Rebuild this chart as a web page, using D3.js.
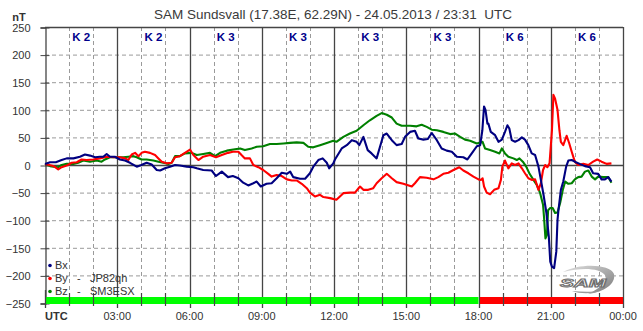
<!DOCTYPE html>
<html>
<head>
<meta charset="utf-8">
<script src="https://cdn.jsdelivr.net/npm/d3@7"></script>
<style>
  html, body { margin: 0; padding: 0; background: #fff; }
  svg { display: block; font-family: "Liberation Sans", Arial, sans-serif; }
</style>
</head>
<body>
<svg id="chart" width="643" height="331"></svg>
<script>
// ---------------- DATA ----------------
const titleText = "SAM Sundsvall (17.38E, 62.29N) - 24.05.2013 / 23:31  UTC";
const yTicks = [-250, -200, -150, -100, -50, 0, 50, 100, 150, 200, 250];
const xTickHours = [3, 6, 9, 12, 15, 18, 21, 24];
const xTickLabels = ["03:00", "06:00", "09:00", "12:00", "15:00", "18:00", "21:00", "00:00"];
const kValues = [2, 2, 3, 3, 3, 3, 6, 6];
const statusStart = [0, 18];
const statusEnd = [18, 24];
const statusLevel = ["quiet", "storm"];
const legendNames = ["Bx", "By", "Bz"];
const legendNotes = ["", "JP82qh", "SM3ESX"];

const bxTime = [0.0,0.21,0.45,0.69,0.9,1.18,1.45,1.66,1.87,2.08,2.28,2.42,2.56,2.7,2.9,3.11,3.32,3.53,3.81,4.0,4.22,4.43,4.64,4.78,4.98,5.19,5.4,5.6,5.88,6.16,6.3,6.57,6.92,7.1,7.34,7.6,7.8,8.03,8.23,8.44,8.65,8.79,8.96,9.2,9.41,9.62,9.83,10.04,10.18,10.31,10.59,10.8,11.0,11.14,11.35,11.53,11.7,11.8,11.97,12.04,12.32,12.53,12.74,12.94,13.05,13.22,13.4,13.56,13.77,13.91,14.05,14.19,14.4,14.6,14.81,14.95,15.16,15.36,15.5,15.71,15.89,16.06,16.27,16.47,16.68,16.89,17.1,17.37,17.54,17.72,17.93,18.07,18.16,18.23,18.29,18.37,18.41,18.51,18.69,18.83,18.97,19.1,19.2,19.28,19.38,19.52,19.66,19.8,19.93,20.07,20.21,20.35,20.49,20.59,20.7,20.82,20.92,20.98,21.05,21.14,21.23,21.28,21.32,21.42,21.52,21.64,21.73,21.87,22.0,22.2,22.42,22.63,22.76,22.97,23.11,23.25,23.39,23.52];
const bxValues = [2,5,5,9,12,12,15,19,17,14,15,15,20,15,15,10,8,4,-3,0,4,1,-9,-10,-6,-3,0,-1,-3,-4,-6,-9,-10,-20,-12,-22,-20,-24,-32,-37,-33,-30,-39,-34,-33,-24,-14,-16,-12,-22,-25,-25,-15,-3,9,12,4,-6,3,10,30,36,45,42,36,51,27,21,12,33,54,57,45,36,38,51,60,62,48,46,47,58,45,30,26,24,15,14,10,21,34,36,63,106,100,75,75,60,54,42,46,60,72,66,45,42,45,50,46,36,21,18,-3,-27,-54,-87,-130,-175,-184,-187,-157,-100,-82,-45,-30,-3,8,9,6,2,-2,-4,-15,-16,-26,-26,-22,-30];

const byTime = [0.0,0.35,0.42,0.55,0.69,0.9,1.11,1.32,1.52,1.73,2.0,2.28,2.56,2.84,3.11,3.32,3.46,3.6,3.74,3.88,4.01,4.15,4.36,4.57,4.71,4.85,5.05,5.26,5.4,5.6,5.81,6.02,6.16,6.37,6.57,6.85,7.1,7.34,7.6,7.8,8.03,8.16,8.3,8.51,8.65,8.86,9.06,9.27,9.41,9.62,9.83,10.04,10.25,10.45,10.66,10.87,11.0,11.21,11.42,11.56,11.84,12.1,12.39,12.66,12.87,13.08,13.22,13.42,13.63,13.77,13.98,14.19,14.4,14.6,14.88,15.23,15.36,15.57,15.85,16.13,16.33,16.54,16.75,16.96,17.2,17.37,17.58,17.79,18.0,18.1,18.17,18.23,18.34,18.48,18.65,18.83,18.93,18.99,19.1,19.24,19.38,19.52,19.66,19.8,19.93,20.07,20.21,20.35,20.49,20.59,20.68,20.77,20.86,20.95,21.05,21.11,21.18,21.28,21.36,21.42,21.52,21.66,21.77,21.87,22.0,22.14,22.35,22.56,22.76,22.93,23.11,23.32,23.52];
const byValues = [2,-2,-4,-8,-4,-1,4,5,10,9,10,12,15,14,14,12,9,19,22,16,22,24,22,18,12,6,3,4,14,16,22,28,18,9,15,18,14,18,22,24,24,18,12,12,0,-4,-9,-16,-21,-18,-20,-26,-28,-28,-34,-42,-50,-57,-54,-58,-60,-63,-51,-50,-50,-39,-45,-45,-42,-33,-24,-16,-24,-31,-34,-39,-33,-22,-23,-26,-22,-16,-14,-9,-4,-10,-15,-21,-26,-27,-24,-39,-50,-53,-45,-42,-27,-3,8,-6,3,0,3,-6,-15,-24,-27,-26,-45,-33,-9,0,-4,3,63,127,120,100,63,42,36,53,39,24,6,0,2,0,6,10,6,2,3];

const bzTime = [0.0,0.21,0.35,0.55,0.69,0.9,1.18,1.38,1.59,1.87,2.15,2.35,2.49,2.7,2.98,3.25,3.46,3.67,3.81,4.01,4.22,4.5,4.71,4.91,5.12,5.26,5.4,5.6,5.81,6.09,6.3,6.57,6.85,7.06,7.27,7.55,7.82,8.1,8.3,8.58,8.79,9.06,9.34,9.62,9.9,10.17,10.45,10.73,10.93,11.14,11.42,11.7,11.97,12.1,12.39,12.66,12.94,13.22,13.49,13.77,13.98,14.19,14.4,14.6,14.81,15.16,15.43,15.64,15.85,16.06,16.27,16.54,16.82,17.03,17.24,17.44,17.65,17.93,18.17,18.27,18.48,18.69,18.87,18.97,19.1,19.24,19.45,19.59,19.7,19.84,19.98,20.11,20.28,20.42,20.56,20.68,20.72,20.78,20.84,20.89,20.98,21.08,21.18,21.28,21.39,21.5,21.6,21.73,21.87,22.0,22.14,22.28,22.42,22.56,22.7,22.84,22.97,23.18,23.39,23.52];
const bzValues = [2,-2,-3,-4,0,2,2,4,8,6,8,6,10,14,14,14,15,16,14,10,10,8,6,4,2,4,16,16,21,22,18,20,22,16,22,26,28,30,27,30,33,34,38,38,39,40,41,40,33,32,36,40,44,42,51,57,62,72,81,89,94,91,86,75,71,71,70,73,69,64,63,60,56,57,51,46,44,39,42,30,27,24,21,30,21,15,12,9,12,6,-3,-15,-27,-36,-51,-72,-94,-133,-127,-82,-78,-78,-87,-86,-69,-45,-30,-34,-33,-26,-22,-21,-12,-10,-21,-26,-21,-22,-22,-32];

// ---------------- DRAW ----------------
const svg = d3.select("#chart");
const x = d3.scaleLinear().domain([0, 24]).range([45, 623]);
const y = d3.scaleLinear().domain([-250, 250]).range([303, 27]);
const solidColor = "#454545";
const dashColor = "#9a9a9a";

// title
svg.append("text").attr("x", 333).attr("y", 19).attr("text-anchor", "middle")
  .attr("font-size", 13.5).attr("fill", "#3a3a3a").style("white-space", "pre")
  .text(titleText);
svg.append("text").attr("x", 19).attr("y", 21).attr("text-anchor", "middle")
  .attr("font-size", 11).attr("font-weight", "bold").attr("fill", "#333").text("nT");

// grid: horizontal
const g = svg.append("g");
yTicks.filter(v => v !== 0 && Math.abs(v) !== 250).forEach(v => {
  g.append("line").attr("x1", x(0)).attr("x2", x(24)).attr("y1", y(v) + 0.5).attr("y2", y(v) + 0.5)
    .attr("stroke", dashColor).attr("stroke-dasharray", "4,3");
});
// vertical hourly grid
d3.range(1, 24).forEach(h => {
  if (h % 3 !== 0) {
    g.append("line").attr("x1", Math.round(x(h)) + 0.5).attr("x2", Math.round(x(h)) + 0.5)
      .attr("y1", y(250)).attr("y2", y(-250))
      .attr("stroke", dashColor).attr("stroke-dasharray", "4,3");
  }
});
d3.range(3, 25, 3).forEach(h => {
  g.append("line").attr("x1", Math.round(x(h)) + 0.5).attr("x2", Math.round(x(h)) + 0.5)
    .attr("y1", y(250)).attr("y2", y(-250) + 5)
    .attr("stroke", solidColor).attr("stroke-width", 1.3);
});
// zero line & top line
[0, 250].forEach(v => {
  g.append("line").attr("x1", x(0)).attr("x2", x(24)).attr("y1", y(v) + 0.5).attr("y2", y(v) + 0.5)
    .attr("stroke", solidColor).attr("stroke-width", 1.3);
});

// y axis
const yAxis = d3.axisLeft(y).tickValues(yTicks).tickSize(5).tickPadding(10).tickFormat(d3.format("d"));
const ya = svg.append("g").attr("transform", `translate(${x(0) + 0.5},0.5)`).call(yAxis);
ya.select(".domain").attr("stroke", solidColor).attr("stroke-width", 1.3);
ya.selectAll(".tick line").attr("stroke", solidColor).attr("x2", 4).attr("x1", -5);
ya.selectAll(".tick text").attr("font-size", 11).attr("fill", "#333")
  .attr("font-family", "Liberation Sans, Arial, sans-serif").attr("x", -15).attr("dy", "0.35em");

// K labels
kValues.forEach((k, i) => {
  svg.append("text").attr("x", x(i * 3 + 1.5)).attr("y", 41).attr("text-anchor", "middle")
    .attr("font-size", 11.5).attr("font-weight", "bold").attr("fill", "#00008b")
    .style("white-space", "pre").text("K " + k);
});

// status bar
statusLevel.forEach((s, i) => {
  const x0 = x(statusStart[i]) + (i > 0 ? 1.5 : 0);
  svg.append("rect").attr("x", x0).attr("y", 297)
    .attr("width", x(statusEnd[i]) - x0).attr("height", 7)
    .attr("fill", s === "quiet" ? "#00ff00" : "#ff0000");
});
// hourly ticks over bar
d3.range(1, 24).forEach(h => {
  if (h % 3 !== 0) {
    svg.append("line").attr("x1", Math.round(x(h)) + 0.5).attr("x2", Math.round(x(h)) + 0.5)
      .attr("y1", 293).attr("y2", 306).attr("stroke", solidColor).attr("stroke-width", 1.2);
  }
});
svg.append("line").attr("x1", x(0) + 0.5).attr("x2", x(0) + 0.5).attr("y1", 290).attr("y2", 308)
  .attr("stroke", solidColor).attr("stroke-width", 1.3);

// x labels
svg.append("text").attr("x", x(0)).attr("y", 320).attr("font-size", 11).attr("font-weight", "bold")
  .attr("fill", "#333").text("UTC");
xTickHours.forEach((h, i) => {
  svg.append("text").attr("x", x(h)).attr("y", 320).attr("text-anchor", "middle")
    .attr("font-size", 11).attr("fill", "#333").text(xTickLabels[i]);
});

// SAM logo
const logo = svg.append("g");
const grad = svg.append("defs").append("linearGradient").attr("id", "swoosh")
  .attr("x1", "0").attr("y1", "0").attr("x2", "1").attr("y2", "1");
grad.append("stop").attr("offset", "0").attr("stop-color", "#e0e0e0");
grad.append("stop").attr("offset", "1").attr("stop-color", "#7a7a7a");
logo.append("path")
  .attr("d", "M563,272 C580,263 610,264 614,274 C616,284 604,292 588,294 C601,288 608,281 605,275 C600,268 582,267 563,272 Z")
  .attr("fill", "url(#swoosh)");
logo.append("path")
  .attr("d", "M572,291 C580,294 592,294 600,291 C592,292 582,292 572,291 Z")
  .attr("fill", "#9a9a9a");
logo.append("text").attr("x", 560).attr("y", 287).attr("font-size", 11).attr("font-style", "italic")
  .attr("font-weight", "bold").attr("fill", "#ffffff").attr("stroke", "#707070").attr("stroke-width", 0.9)
  .attr("textLength", 46).attr("lengthAdjust", "spacingAndGlyphs").text("SAM");

// lines
const line = d3.line().x(d => x(d[0])).y(d => y(d[1]));
const series = [
  { t: bzTime, v: bzValues, c: "#008000" },
  { t: byTime, v: byValues, c: "#ff0000" },
  { t: bxTime, v: bxValues, c: "#000080" }
];
series.forEach(s => {
  svg.append("path").datum(s.t.map((t, i) => [t, s.v[i]]))
    .attr("d", line).attr("fill", "none").attr("stroke", s.c).attr("stroke-width", 2.1)
    .attr("stroke-linejoin", "round");
});

// legend
const legColors = ["#000080", "#ff0000", "#008000"];
legendNames.forEach((n, i) => {
  const yy = 269 + i * 13;
  svg.append("circle").attr("cx", 50).attr("cy", yy - 3.5).attr("r", 1.8).attr("fill", legColors[i]);
  svg.append("text").attr("x", 55).attr("y", yy).attr("font-size", 11).attr("fill", "#333").text(n);
  if (legendNotes[i]) {
    svg.append("text").attr("x", 77).attr("y", yy).attr("font-size", 11).attr("fill", "#333").text("-");
    svg.append("text").attr("x", 90).attr("y", yy).attr("font-size", 11).attr("fill", "#333").text(legendNotes[i]);
  }
});
</script>
</body>
</html>
